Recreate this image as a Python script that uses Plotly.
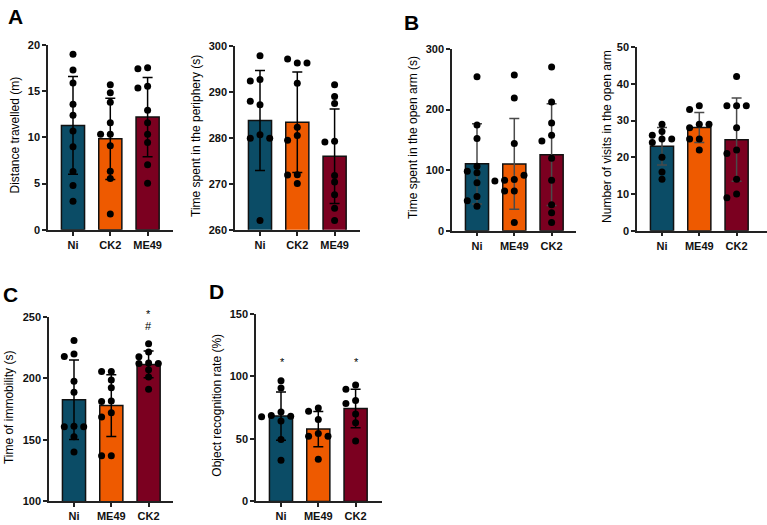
import plotly.graph_objects as go

W, H = 767, 525
FONT = "Liberation Sans, Arial, sans-serif"
BAR_COLORS = ["#0B4C66", "#EE5A00", "#7B0020"]

# --- A: open field ---
of_groups = ["Ni", "CK2", "ME49"]
dist_mean = [11.3, 9.85, 12.2]
dist_sd = [5.3, 4.4, 4.3]
dist_ni = [19.0, 17.3, 15.9, 13.6, 12.4, 10.7, 9.0, 6.3, 4.8, 3.1]
dist_ck2 = [15.7, 14.85, 13.8, 11.6, 10.35, 10.35, 9.1, 6.35, 5.55, 1.7]
dist_me49 = [17.55, 17.45, 15.55, 15.35, 12.95, 11.6, 10.35, 9.45, 7.05, 5.05]

peri_mean = [283.8, 283.4, 276.0]
peri_sd = [10.9, 10.95, 10.3]
peri_ni = [297.9, 292.7, 292.4, 287.2, 288.0, 280.7, 279.9, 279.9, 262.0]
peri_ck2 = [296.3, 297.2, 296.3, 291.9, 282.3, 280.5, 279.5, 272.0, 271.9, 270.1]
peri_me49 = [291.6, 289.0, 287.5, 279.3, 279.1, 271.8, 270.4, 267.6, 264.7, 262.0]

# --- B: elevated plus maze ---
epm_groups = ["Ni", "ME49", "CK2"]
arm_mean = [110.4, 110.3, 125.5]
arm_sd = [66.2, 74.9, 84.0]
arm_ni = [254.2, 174.5, 152.4, 106.6, 95.9, 98.0, 79.2, 56.5, 49.5, 40.4]
arm_me49 = [256.9, 219.2, 143.8, 84.5, 83.5, 91.5, 81.9, 65.7, 65.7, 13.5]
arm_ck2 = [270.3, 212.7, 177.7, 157.8, 148.1, 119.5, 83.5, 43.1, 29.6, 13.5]

visit_mean = [23.0, 28.1, 24.8]
visit_sd = [5.1, 4.05, 11.35]
visit_ni = [29, 27, 26, 25, 25, 24, 20, 16, 14]
visit_me49 = [34, 33, 29, 28, 29, 25, 25, 22]
visit_ck2 = [42, 34, 34, 34, 28, 22, 21, 14, 10, 9]

# --- C: forced swim ---
imm_mean = [182.6, 177.8, 211.3]
imm_sd = [32.3, 25.15, 10.95]
imm_ni = [230.7, 219.8, 217.7, 197.6, 188.6, 161.1, 160.6, 160.6, 152.6, 140.2]
imm_me49 = [205.6, 205.6, 198.7, 192.3, 181.5, 181.2, 172.0, 168.5, 137.0, 137.0]
imm_ck2 = [228.0, 221.4, 217.5, 212.5, 212.0, 212.0, 207.0, 201.0, 191.0]

# --- D: object recognition ---
obj_mean = [68.2, 57.8, 74.3]
obj_sd = [19.25, 14.05, 15.35]
obj_ni = [96.4, 90.7, 71.5, 68.6, 68.1, 67.6, 64.2, 49.4, 33.0]
obj_me49 = [74.6, 72.0, 65.5, 54.3, 52.0, 52.0, 33.8]
obj_ck2 = [93.1, 89.7, 80.6, 78.2, 69.9, 62.9, 48.4]

# panel layout in pixels: x-axis start/end, y top/bottom, title x
panels = [
    dict(groups=of_groups, mean=dist_mean, sd=dist_sd, pts=[dist_ni, dist_ck2, dist_me49],
         yr=[0, 20], dtick=5, title="Distance travelled (m)",
         x0=48, x1=173, ytop=40, ybot=229, tx=15, err="#000"),
    dict(groups=of_groups, mean=peri_mean, sd=peri_sd, pts=[peri_ni, peri_ck2, peri_me49],
         yr=[260, 300], dtick=10, title="Time spent in the periphery (s)",
         x0=235, x1=360, ytop=41, ybot=229, tx=196, err="#000"),
    dict(groups=epm_groups, mean=arm_mean, sd=arm_sd, pts=[arm_ni, arm_me49, arm_ck2],
         yr=[0, 300], dtick=100, title="Time spent in the open arm (s)",
         x0=452, x1=576, ytop=44, ybot=230, tx=413, err="#4a4a4a"),
    dict(groups=epm_groups, mean=visit_mean, sd=visit_sd, pts=[visit_ni, visit_me49, visit_ck2],
         yr=[0, 50], dtick=10, title="Number of visits in the open arm",
         x0=637, x1=767, ytop=42, ybot=230, tx=607, err="#4a4a4a"),
    dict(groups=epm_groups, mean=imm_mean, sd=imm_sd, pts=[imm_ni, imm_me49, imm_ck2],
         yr=[100, 250], dtick=50, title="Time of immobility (s)",
         x0=49, x1=173, ytop=318, ybot=507, tx=9, err="#000"),
    dict(groups=epm_groups, mean=obj_mean, sd=obj_sd, pts=[obj_ni, obj_me49, obj_ck2],
         yr=[0, 150], dtick=50, title="Object recognition rate (%)",
         x0=256, x1=382, ytop=315, ybot=507, tx=217, err="#000"),
]


def swarm(vals, px_per_unit, step=0.26, gap=6.5):
    placed, xs = [], []
    for v in vals:
        for slot in [0, -1, 1, -2, 2, -3, 3]:
            if all(abs(v - y) * px_per_unit >= gap for s, y in placed if s == slot):
                break
        placed.append((slot, v))
        xs.append(slot * step)
    return xs


fig = go.Figure()
layout = dict(width=W, height=H, margin=dict(l=0, r=0, t=0, b=0),
              paper_bgcolor="white", plot_bgcolor="white", showlegend=False,
              font=dict(family=FONT, color="#111"), annotations=[])

for i, p in enumerate(panels, start=1):
    xa, ya = f"x{i}", f"y{i}"
    spacing = 37.3
    xr = [-25 / spacing, -25 / spacing + (p["x1"] - p["x0"]) / spacing]
    ppu = (p["ybot"] - p["ytop"]) / (p["yr"][1] - p["yr"][0])

    fig.add_trace(go.Bar(
        x=[0, 1, 2], y=p["mean"], width=0.62, xaxis=xa, yaxis=ya,
        marker=dict(color=BAR_COLORS, line=dict(color="#111", width=1.5)),
        error_y=dict(type="data", array=p["sd"], color=p["err"], thickness=1.5, width=5),
    ))
    for g, vals in enumerate(p["pts"]):
        offs = swarm(vals, ppu)
        fig.add_trace(go.Scatter(
            x=[g + o for o in offs], y=vals, mode="markers", xaxis=xa, yaxis=ya,
            marker=dict(color="black", size=7), cliponaxis=False,
        ))

    key = "" if i == 1 else str(i)
    layout[f"xaxis{key}"] = dict(
        domain=[p["x0"] / W, p["x1"] / W], range=xr, anchor=ya,
        tickvals=[0, 1, 2], ticktext=p["groups"], showgrid=False, zeroline=False,
        showline=True, linecolor="#222", linewidth=1.5,
        ticks="outside", ticklen=4, tickwidth=1.5, tickcolor="#222",
        tickfont=dict(size=11, weight="bold", color="#111"),
    )
    layout[f"yaxis{key}"] = dict(
        domain=[1 - p["ybot"] / H, 1 - p["ytop"] / H], range=p["yr"], anchor=xa,
        dtick=p["dtick"], showgrid=False, zeroline=False,
        showline=True, linecolor="#222", linewidth=1.5,
        ticks="outside", ticklen=4, tickwidth=1.5, tickcolor="#222",
        tickfont=dict(size=11, weight="bold", color="#111"),
    )
    layout["annotations"].append(dict(
        text=p["title"], textangle=-90, xref="paper", yref="paper",
        x=p["tx"] / W, y=1 - ((p["ytop"] + p["ybot"]) / 2 - 2) / H,
        xanchor="center", yanchor="middle", showarrow=False,
        font=dict(size=12, color="black"),
    ))

# panel letters
for letter, lx, ly in [("A", 6, 11), ("B", 402, 17), ("C", 1, 295), ("D", 207, 292)]:
    layout["annotations"].append(dict(
        text=letter, xref="paper", yref="paper", x=lx / W, y=1 - ly / H,
        xanchor="left", yanchor="middle", showarrow=False,
        font=dict(size=21, weight="bold", color="black"),
    ))

# significance marks
for mark, mx, my in [("*", 148, 315.5), ("#", 148, 327), ("*", 282, 364.5), ("*", 356, 364.5)]:
    layout["annotations"].append(dict(
        text=mark, xref="paper", yref="paper", x=mx / W, y=1 - my / H,
        xanchor="center", yanchor="middle", showarrow=False,
        font=dict(size=11, color="black"),
    ))

fig.update_layout(**layout)
fig.write_html("out.html", config={"displayModeBar": False},
               post_script="document.body.style.margin='0';")
